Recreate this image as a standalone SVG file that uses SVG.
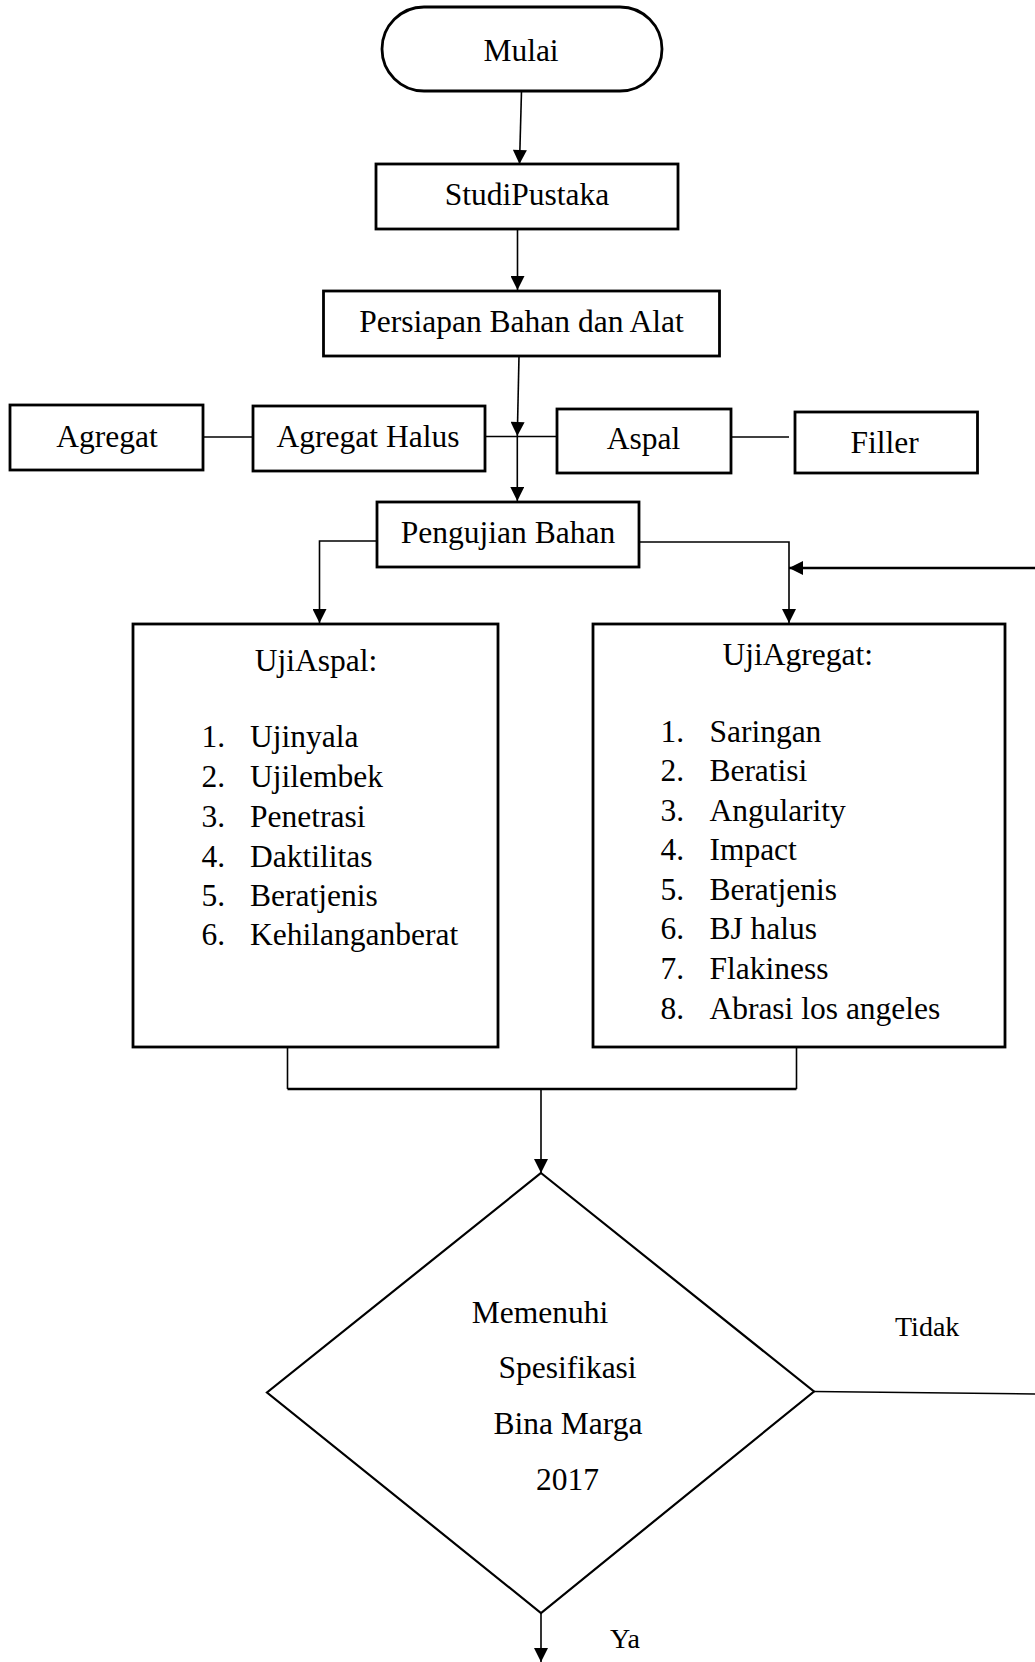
<svg xmlns="http://www.w3.org/2000/svg" width="1035" height="1662" viewBox="0 0 1035 1662">
<style>
.box{fill:#fff;stroke:#000;stroke-width:2.8}
.dia{fill:#fff;stroke:#000;stroke-width:2.2}
.ln{fill:none;stroke:#000;stroke-width:1.6}
.lnb{fill:none;stroke:#000;stroke-width:2.4}
text{font-family:"Liberation Serif","Times New Roman",serif;font-size:31.5px;fill:#000}
.c{text-anchor:middle}
.s{font-size:28px}
</style>
<defs>
<marker id="ah" viewBox="0 0 10 10" refX="10" refY="5" markerUnits="userSpaceOnUse" markerWidth="15" markerHeight="14" orient="auto">
<path d="M0,0 L10,5 L0,10 z" fill="#000"/>
</marker>
</defs>
<rect width="1035" height="1662" fill="#fff"/>
<g id="connectors">
<line class="ln" x1="521.5" y1="91" x2="519.5" y2="164" marker-end="url(#ah)"/>
<line class="ln" x1="517.5" y1="229" x2="517.5" y2="290" marker-end="url(#ah)"/>
<line class="ln" x1="519" y1="356" x2="517.3" y2="436" marker-end="url(#ah)"/>
<line class="ln" x1="485" y1="436.5" x2="557" y2="436.5"/>
<line class="ln" x1="203" y1="437" x2="253" y2="437"/>
<line class="ln" x1="731" y1="437" x2="789" y2="437"/>
<line class="ln" x1="517.3" y1="436" x2="517.3" y2="501" marker-end="url(#ah)"/>
<polyline class="ln" points="377,541 319.5,541 319.5,623" marker-end="url(#ah)"/>
<polyline class="ln" points="639,542 789,542 789,623" marker-end="url(#ah)"/>
<line class="lnb" x1="1035" y1="568" x2="789" y2="568" marker-end="url(#ah)"/>
<line class="ln" x1="287.5" y1="1047" x2="287.5" y2="1089"/>
<line class="ln" x1="796.5" y1="1047" x2="796.5" y2="1089"/>
<line class="lnb" x1="287.5" y1="1089" x2="796.5" y2="1089"/>
<line class="ln" x1="541" y1="1089" x2="541" y2="1173" marker-end="url(#ah)"/>
<line class="ln" x1="814" y1="1391.5" x2="1035" y2="1394"/>
<line class="ln" x1="541" y1="1613" x2="541" y2="1662" marker-end="url(#ah)"/>
</g>
<g id="mulai">
<rect class="box" x="382" y="7" width="280" height="84" rx="42" ry="42"/>
<text class="c" x="521" y="61">Mulai</text>
</g>
<g id="studi">
<rect class="box" x="376" y="164" width="302" height="65"/>
<text class="c" x="527" y="205">StudiPustaka</text>
</g>
<g id="persiapan">
<rect class="box" x="323.5" y="291" width="396" height="65"/>
<text class="c" x="521.5" y="332">Persiapan Bahan dan Alat</text>
</g>
<g id="agregat">
<rect class="box" x="10" y="405" width="193" height="65"/>
<text class="c" x="107" y="447">Agregat</text>
</g>
<g id="agregat-halus">
<rect class="box" x="253" y="406" width="232" height="65"/>
<text class="c" x="368" y="447">Agregat Halus</text>
</g>
<g id="aspal">
<rect class="box" x="557" y="409" width="174" height="64"/>
<text class="c" x="643.5" y="449">Aspal</text>
</g>
<g id="filler">
<rect class="box" x="795" y="412" width="182.5" height="61"/>
<text class="c" x="884.5" y="453">Filler</text>
</g>
<g id="pengujian">
<rect class="box" x="377" y="502" width="262" height="65"/>
<text class="c" x="508" y="543">Pengujian Bahan</text>
</g>
<g id="uji-aspal">
<rect class="box" x="133" y="624" width="365" height="423"/>
<text class="c" x="316" y="671">UjiAspal:</text>
<text x="201.4" y="747">1.</text><text x="250" y="747">Ujinyala</text>
<text x="201.4" y="787">2.</text><text x="250" y="787">Ujilembek</text>
<text x="201.4" y="827">3.</text><text x="250" y="827">Penetrasi</text>
<text x="201.4" y="866.5">4.</text><text x="250" y="866.5">Daktilitas</text>
<text x="201.4" y="905.5">5.</text><text x="250" y="905.5">Beratjenis</text>
<text x="201.4" y="945">6.</text><text x="250" y="945">Kehilanganberat</text>
</g>
<g id="uji-agregat">
<rect class="box" x="593" y="624" width="412" height="423"/>
<text class="c" x="797.7" y="665">UjiAgregat:</text>
<text x="660.5" y="742">1.</text><text x="709.4" y="742">Saringan</text>
<text x="660.5" y="781">2.</text><text x="709.4" y="781">Beratisi</text>
<text x="660.5" y="820.5">3.</text><text x="709.4" y="820.5">Angularity</text>
<text x="660.5" y="859.5">4.</text><text x="709.4" y="859.5">Impact</text>
<text x="660.5" y="899.5">5.</text><text x="709.4" y="899.5">Beratjenis</text>
<text x="660.5" y="939">6.</text><text x="709.4" y="939">BJ halus</text>
<text x="660.5" y="979">7.</text><text x="709.4" y="979">Flakiness</text>
<text x="660.5" y="1018.5">8.</text><text x="709.4" y="1018.5">Abrasi los angeles</text>
</g>
<g id="keputusan">
<polygon class="dia" points="541,1173 814,1391.5 541,1613 267,1392.5"/>
<text class="c" x="540" y="1323">Memenuhi</text>
<text class="c" x="567.5" y="1378">Spesifikasi</text>
<text class="c" x="568" y="1434">Bina Marga</text>
<text class="c" x="567.5" y="1489.5">2017</text>
</g>
<g id="labels">
<text class="s" x="895" y="1335.5">Tidak</text>
<text class="s" x="610" y="1647.5">Ya</text>
</g>
</svg>
